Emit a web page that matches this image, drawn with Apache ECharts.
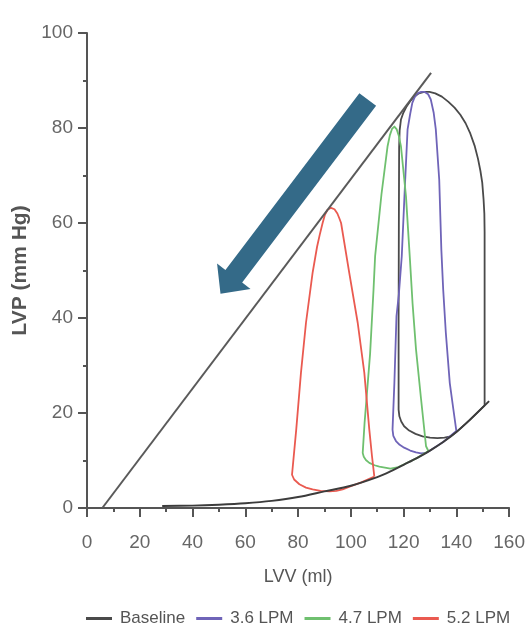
<!DOCTYPE html>
<html>
<head>
<meta charset="utf-8">
<script src="https://cdn.jsdelivr.net/npm/echarts@6/dist/echarts.min.js"></script>
<style>
html,body{margin:0;padding:0;background:#fff;}
#chart{width:528px;height:628px;}
</style>
</head>
<body>
<div id="chart"></div>
<script>
// ---- data (LVV ml, LVP mmHg) ----
const seriesNames = ['Baseline', '3.6 LPM', '4.7 LPM', '5.2 LPM'];
const xTicks = [0, 20, 40, 60, 80, 100, 120, 140, 160];
const yTicks = [0, 20, 40, 60, 80, 100];

const espvr = [[5.8, 0], [130.4, 91.6]];
const edpvr = [[28.5,0.4],[40,0.5],[50,0.7],[60,1.0],[70,1.5],[80,2.3],[90,3.5],[100,4.7],[110,6.5],[115,7.7],[120,9.1],[125,10.5],[130,12.1],[135,13.9],[140,16.0],[145,18.5],[152.4,22.5]];

const baseline = [[150.7,21.6],[150.7,40],[150.7,58],[150.6,62],[150.3,65],[149.8,68.5],[149.1,71],[148.2,73.5],[146.9,76.3],[145.3,78.8],[143.5,81],[141.5,82.8],[139.3,84.3],[137,85.5],[134.5,86.6],[132,87.3],[129.8,87.6],[127.8,87.6],[125.8,87.3],[124,86.6],[122.4,85.6],[121,84.4],[119.9,83.2],[119,81.8],[118.5,79.5],[118.3,76],[118.2,60],[118.1,40],[118.1,20.7],[118.4,19.3],[119.1,18.2],[120.2,17.2],[122.1,16.3],[124.5,15.6],[127.2,15.1],[130,14.8],[132.8,14.7],[135.5,14.8],[137.9,15.1],[140.4,16.2],[145,18.5],[150.7,21.6]];
const lpm36 = [[140.0,16.2],[138.8,21],[137.5,26.3],[136.0,36.9],[135,46],[134.3,54.4],[133.5,69.1],[132.2,79.7],[131.4,83.2],[130.3,86.0],[129.3,87.1],[128,87.6],[126.6,87.6],[125.3,87.3],[124.2,86.5],[123.3,85.3],[122.5,83],[121.5,79.7],[120.6,69.1],[119.3,53],[118.2,45],[117.3,40.4],[116.5,26.3],[115.8,16.5],[116.1,15.2],[117.1,14.1],[118.5,13.3],[120.2,12.7],[122.5,12.1],[124.7,11.7],[126.6,11.5],[128.5,11.6],[129.7,12.0],[135,13.9],[140.0,16.2]];
const lpm47 = [[129.4,12.0],[128.5,13.0],[126.6,23],[124.7,33.4],[123.4,43],[122.4,52.3],[120.9,65.6],[119,76.1],[118.2,78.3],[117.4,79.7],[116.5,80.3],[115.6,79.8],[114.8,78.5],[113.9,76.1],[111.6,66],[109.2,53],[108.6,46],[107.3,32.5],[105.2,17.9],[104.5,11.6],[104.9,10.8],[105.7,10.1],[107.0,9.5],[109,9.0],[110.8,8.7],[115,8.3],[118,8.6],[120.2,9.2],[125,10.5],[129.4,12.0]];
const lpm52 = [[108.9,6.6],[108.0,11],[107.0,16.5],[105.1,28.5],[102.6,39.0],[99.4,49.5],[96.3,60.0],[95.7,60.9],[94.9,62],[93.8,62.9],[92.5,63.2],[91.2,62.8],[90.2,61.8],[89.3,60.0],[88.2,57.5],[87.2,55],[85.5,49.5],[83.0,39.0],[81.1,28.5],[79.3,16.5],[77.7,7.0],[78.5,6.0],[80.5,5.0],[83,4.3],[85.5,3.9],[88.5,3.6],[91.9,3.5],[94.5,3.6],[96.9,3.9],[100,4.6],[104,5.4],[108.9,6.6]];

// annotation arrow (data coords): tail -> tip
const arrowTail = [106.4, 86.0];
const arrowTip = [50.6, 45.1];

const colors = { base: '#4a4a4a', c36: '#6f64b8', c47: '#6fc06f', c52: '#ea5a50', arrow: '#346a88', axis: '#555555' };
const FONT = "'Liberation Sans', Arial, sans-serif";

const chart = echarts.init(document.getElementById('chart'), null, { renderer: 'canvas' });

function loop(name, data, color) {
  return { name, type: 'line', data, symbol: 'none', smooth: false, z: 3,
    lineStyle: { color, width: 1.8, join: 'round' }, itemStyle: { color }, silent: true };
}

const option = {
  animation: false,
  backgroundColor: '#ffffff',
  grid: { left: 87, right: 18, top: 33, bottom: 120 },
  legend: {
    data: seriesNames, left: 81, top: 605, itemGap: 11, itemWidth: 26, itemHeight: 3,
    icon: 'rect', textStyle: { fontFamily: FONT, fontSize: 17, color: '#555', padding: [0, 0, 0, 3] }
  },
  xAxis: {
    type: 'value', min: xTicks[0], max: xTicks[xTicks.length - 1], interval: 20,
    name: 'LVV (ml)', nameLocation: 'middle', nameGap: 60,
    nameTextStyle: { fontFamily: FONT, fontSize: 18, color: '#555' },
    axisLine: { show: true, lineStyle: { color: colors.axis, width: 2 } },
    axisTick: { show: true, length: 9, lineStyle: { color: colors.axis, width: 2 } },
    minorTick: { show: true, splitNumber: 2, length: 4, lineStyle: { color: colors.axis, width: 2 } },
    axisLabel: { fontFamily: FONT, fontSize: 19, color: '#666', margin: 25 },
    splitLine: { show: false }
  },
  yAxis: {
    type: 'value', min: yTicks[0], max: yTicks[yTicks.length - 1], interval: 20,
    name: 'LVP (mm Hg)', nameLocation: 'middle', nameGap: 52,
    nameTextStyle: { fontFamily: FONT, fontSize: 21, fontWeight: 'bold', color: '#555' },
    axisLine: { show: true, lineStyle: { color: colors.axis, width: 2 } },
    axisTick: { show: true, length: 9, lineStyle: { color: colors.axis, width: 2 } },
    minorTick: { show: true, splitNumber: 2, length: 4, lineStyle: { color: colors.axis, width: 2 } },
    axisLabel: { fontFamily: FONT, fontSize: 19, color: '#666', margin: 14 },
    splitLine: { show: false }
  },
  series: [
    loop(seriesNames[0], baseline, colors.base),
    loop(seriesNames[1], lpm36, colors.c36),
    loop(seriesNames[2], lpm47, colors.c47),
    loop(seriesNames[3], lpm52, colors.c52),
    { name: 'ESPVR', type: 'line', data: espvr, symbol: 'none', z: 4, silent: true,
      lineStyle: { color: '#5a5a5a', width: 2 } },
    { name: 'EDPVR', type: 'line', data: edpvr, symbol: 'none', smooth: 0.3, z: 4, silent: true,
      lineStyle: { color: '#3c3c3c', width: 2 } },
    { name: 'arrow', type: 'custom', z: 5, silent: true,
      data: [[arrowTail[0], arrowTail[1], arrowTip[0], arrowTip[1]]],
      renderItem: function (params, api) {
        const a = api.coord([api.value(0), api.value(1)]);
        const b = api.coord([api.value(2), api.value(3)]);
        const dx = b[0] - a[0], dy = b[1] - a[1];
        const L = Math.hypot(dx, dy);
        const ux = dx / L, uy = dy / L, nx = -uy, ny = ux;
        const sw = 10.5, hw = 21, hl = 22;
        const bx = b[0] - ux * hl, by = b[1] - uy * hl;
        const pts = [
          [a[0] + nx * sw, a[1] + ny * sw],
          [bx + nx * sw, by + ny * sw],
          [bx + nx * hw, by + ny * hw],
          [b[0], b[1]],
          [bx - nx * hw, by - ny * hw],
          [bx - nx * sw, by - ny * sw],
          [a[0] - nx * sw, a[1] - ny * sw]
        ];
        return { type: 'polygon', shape: { points: pts }, style: { fill: colors.arrow } };
      }
    }
  ]
};
chart.setOption(option);
</script>
</body>
</html>
